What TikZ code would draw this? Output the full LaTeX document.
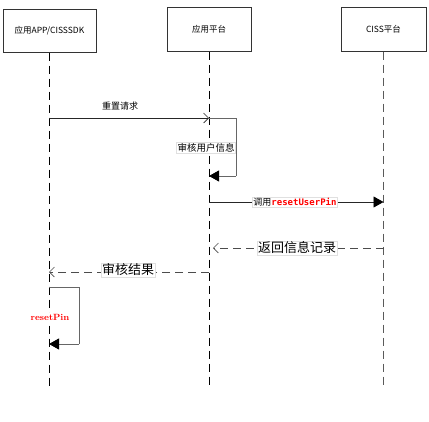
\documentclass[tikz,border=0pt]{standalone}
\usepackage{fontspec}
\newfontfamily\cjk{Noto Sans CJK SC}
\setmonofont{DejaVu Sans Mono}
\usetikzlibrary{arrows.meta}
\definecolor{lifegray}{RGB}{90,90,90}
\definecolor{msgred}{RGB}{255,0,0}
\tikzset{
  actorbox/.style={draw=black!80, line width=1pt, fill=white, inner sep=0pt, font=\cjk\fontsize{8.5}{10}\selectfont},
  lifeline/.style={line width=1pt, dash pattern=on 8pt off 5pt},
  msg/.style={line width=0.8pt, draw=black!85},
  selfmsg/.style={line width=0.9pt, draw=black!60},
  retmsg/.style={line width=0.8pt, draw=black!70, dash pattern=on 8pt off 5pt},
  opentip/.style={-{Straight Barb[length=5pt,width=10pt,line width=0.6pt]}},
  filledtip/.style={-{Triangle[length=10pt,width=11pt,fill=black,color=black]}},
  msglabel/.style={fill=white, draw=black!12, line width=0.4pt, inner sep=1pt},
}
\begin{document}
\begin{tikzpicture}[x=1pt,y=-1pt]
\useasboundingbox (0,0) rectangle (429,421);
% actors
\node[actorbox, minimum width=93pt, minimum height=43pt] (A) at (49.5,30.5) {应用APP/CISSSDK};
\node[actorbox, minimum width=84pt, minimum height=44pt] (B) at (209,29) {应用平台};
\node[actorbox, minimum width=85pt, minimum height=44pt] (C) at (383.5,29) {CISS平台};
% lifeline ends
\coordinate (Aend) at (49,388);
\coordinate (Bend) at (209,388);
\coordinate (Cend) at (383.5,388);
\draw[lifeline] (A.south -| Aend) -- (Aend);
\draw[lifeline] (B.south -| Bend) -- (Bend);
\draw[lifeline, draw=lifegray] (C.south -| Cend) -- (Cend);
% message points
\coordinate (a1) at (49,118);
\coordinate (b1) at (209,118);
\coordinate (s1) at (236,118);
\coordinate (s2) at (236,176);
\coordinate (b2) at (209,176);
\coordinate (b3) at (209,202);
\coordinate (c3) at (383.5,202);
\coordinate (c4) at (383.5,248);
\coordinate (b4) at (213,248);
\coordinate (b5) at (209,272);
\coordinate (a5) at (49,272);
\coordinate (a6) at (49,287);
\coordinate (t1) at (79,287);
\coordinate (t2) at (79,344);
\coordinate (a7) at (49,344);
% messages
\draw[msg, opentip] (a1) -- (b1);
\node[font=\cjk\fontsize{9}{10}\selectfont] (L1) at (120,106) {重置请求};
\draw[selfmsg] (b1) -- (s1) -- (s2);
\draw[selfmsg, filledtip] (s2) -- (b2);
\node[msglabel, font=\cjk\fontsize{9.5}{10}\selectfont] (L2) at (206,148) {审核用户信息};
\draw[msg, filledtip] (b3) -- (c3);
\node[msglabel, font=\fontsize{9}{10}\selectfont] (L3) at (295,202.5) {\cjk 调用\textcolor{msgred}{\ttfamily\bfseries resetUserPin}};
\draw[retmsg, opentip] (c4) -- (b4);
\node[msglabel, font=\cjk\fontsize{13}{14}\selectfont] (L4) at (297,248) {返回信息记录};
\draw[retmsg, opentip] (b5) -- (a5);
\node[msglabel, font=\cjk\fontsize{13}{14}\selectfont] (L5) at (128,270) {审核结果};
\draw[selfmsg] (a6) -- (t1) -- (t2);
\draw[selfmsg, filledtip] (t2) -- (a7);
\node[msglabel, draw=none, text=msgred, font=\fontsize{9}{10}\selectfont\bfseries] (L6) at (50,317) {resetPin};
\end{tikzpicture}
\end{document}
